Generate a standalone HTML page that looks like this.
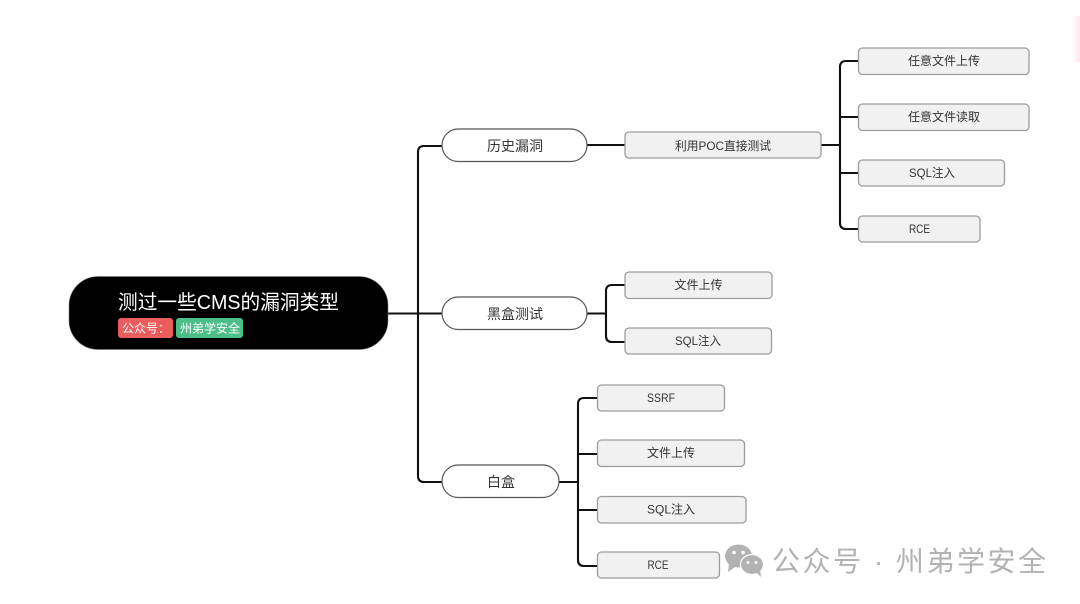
<!DOCTYPE html>
<html lang="zh">
<head>
<meta charset="utf-8">
<style>
html,body{margin:0;padding:0;background:#fff;width:1080px;height:604px;overflow:hidden}
svg{display:block}
text{font-family:"Liberation Sans","Noto Sans CJK SC",sans-serif}
.b{fill:#f1f1f1;stroke:#9c9c9c;stroke-width:1.3}
.p{fill:#fff;stroke:#555;stroke-width:1.2}
.l{fill:none;stroke:#111;stroke-width:2.100}
.t{font-size:12px;fill:#333;text-anchor:middle}
.m{font-size:14px;fill:#333;text-anchor:middle}
</style>
</head>
<body>
<svg width="1080" height="604" viewBox="0 0 1080 604" xmlns="http://www.w3.org/2000/svg">
<defs>
<linearGradient id="pk" x1="0" x2="1" y1="0" y2="0"><stop offset="0" stop-color="#ffe3ee" stop-opacity="0"/><stop offset="1" stop-color="#ffe6ef"/></linearGradient>
</defs>
<rect x="1072" y="16" width="8" height="46" fill="url(#pk)"/>

<!-- connectors -->
<path class="l" d="M388 313.500H442"/>
<path class="l" d="M442 146H424Q418 146 418 152V476Q418 482 424 482H442"/>
<path class="l" d="M587 145H625"/>
<path class="l" d="M821 145H840"/>
<path class="l" d="M858 61H846Q840 61 840 67V223Q840 229 846 229H858"/>
<path class="l" d="M840 117H858M840 173H858"/>
<path class="l" d="M587 313.500H606"/>
<path class="l" d="M625 285H612Q606 285 606 291V336Q606 342 612 342H625"/>
<path class="l" d="M559 482H578"/>
<path class="l" d="M597 398H584Q578 398 578 404V560Q578 566 584 566H597"/>
<path class="l" d="M578 454H597M578 510H597"/>

<!-- root -->
<rect x="69" y="276.500" width="319" height="73" rx="29" ry="29" fill="#000" stroke="#777" stroke-width="0.600"/>
<text x="118" y="309" font-size="20" fill="#fff" textLength="221" lengthAdjust="spacingAndGlyphs">测过一些CMS的漏洞类型</text>
<rect x="118" y="318" width="55" height="20" rx="3" fill="#eb5c5c"/>
<text x="122" y="332.500" font-size="12" fill="#fff">公众号：</text>
<rect x="176" y="318" width="67" height="20" rx="3" fill="#4cbf88"/>
<text x="180" y="332.500" font-size="12" fill="#fff" textLength="60">州弟学安全</text>

<!-- level 1 -->
<rect class="p" x="442" y="129" width="145" height="32.500" rx="16.250"/>
<text class="m" x="515" y="151">历史漏洞</text>
<rect class="p" x="442" y="297" width="145" height="32.500" rx="16.250"/>
<text class="m" x="515" y="319">黑盒测试</text>
<rect class="p" x="442" y="465" width="117" height="32.500" rx="16.250"/>
<text class="m" x="501" y="487">白盒</text>

<!-- level 2 -->
<rect class="b" x="625" y="132" width="196" height="26" rx="4"/>
<text class="t" x="723" y="150" textLength="96" lengthAdjust="spacingAndGlyphs">利用POC直接测试</text>

<rect class="b" x="858.500" y="48" width="170.500" height="26.500" rx="4"/>
<text class="t" x="944" y="65">任意文件上传</text>
<rect class="b" x="858.500" y="104" width="170.500" height="26.500" rx="4"/>
<text class="t" x="944" y="121">任意文件读取</text>
<rect class="b" x="858.500" y="160" width="146" height="26" rx="4"/>
<text class="t" x="932" y="177" textLength="46" lengthAdjust="spacingAndGlyphs">SQL注入</text>
<rect class="b" x="858.500" y="216" width="121.500" height="26" rx="4"/>
<text class="t" x="919.500" y="233" textLength="21" lengthAdjust="spacingAndGlyphs">RCE</text>

<rect class="b" x="625" y="272" width="147" height="26.500" rx="4"/>
<text class="t" x="698.500" y="289">文件上传</text>
<rect class="b" x="625" y="328" width="146.500" height="26" rx="4"/>
<text class="t" x="698" y="345" textLength="46" lengthAdjust="spacingAndGlyphs">SQL注入</text>

<rect class="b" x="597.500" y="385" width="127" height="26" rx="4"/>
<text class="t" x="661" y="402" textLength="28" lengthAdjust="spacingAndGlyphs">SSRF</text>
<rect class="b" x="597.500" y="440" width="147" height="26.500" rx="4"/>
<text class="t" x="671" y="457">文件上传</text>
<rect class="b" x="597.500" y="496.500" width="148.500" height="26.500" rx="4"/>
<text class="t" x="671" y="513.500" textLength="48" lengthAdjust="spacingAndGlyphs">SQL注入</text>
<rect class="b" x="597.500" y="552" width="122" height="26" rx="4"/>
<text class="t" x="658" y="569" textLength="21" lengthAdjust="spacingAndGlyphs">RCE</text>

<!-- watermark -->
<g fill="#b2b2b2">
<ellipse cx="738.500" cy="556" rx="13.500" ry="11.500"/>
<path d="M729 563L728 572L738 565Z"/>
<ellipse cx="752" cy="564.500" rx="11.500" ry="10" stroke="#fff" stroke-width="1.200"/>
<path d="M756 572L761 577L760 569Z"/>
<g fill="#fff"><circle cx="734" cy="552.500" r="1.800"/><circle cx="743" cy="552.500" r="1.800"/><circle cx="748" cy="562.500" r="1.500"/><circle cx="756" cy="562.500" r="1.500"/></g>
</g>
<text x="772" y="571" font-size="28" fill="#b2b2b2" textLength="274" lengthAdjust="spacing">公众号 · 州弟学安全</text>
</svg>
</body>
</html>
